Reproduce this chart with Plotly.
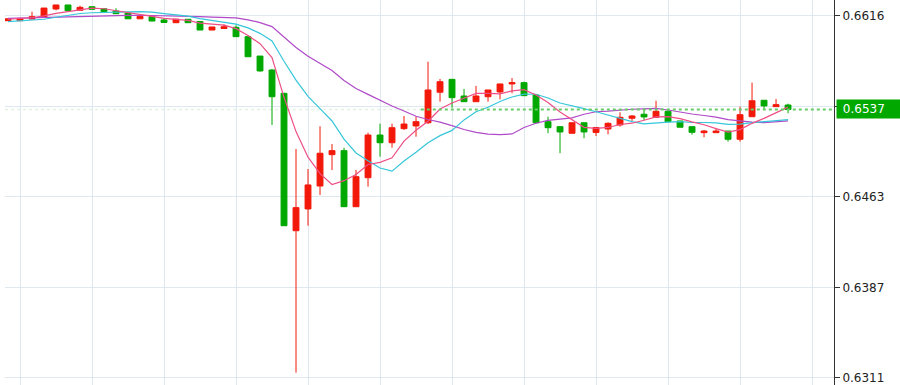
import plotly.graph_objects as go

# ---- data ----
idx = list(range(66))

opens = [0.66120, 0.66120, 0.66134, 0.66149, 0.66219, 0.66253, 0.66208, 0.66238, 0.66221, 0.66202,
         0.66185, 0.66136, 0.66154, 0.66126, 0.66103, 0.66132, 0.66113, 0.66041, 0.66054, 0.66064,
         0.65985, 0.65821, 0.65703, 0.65506, 0.64344, 0.64528, 0.64722, 0.64987, 0.65021, 0.64547,
         0.64792, 0.65153, 0.65088, 0.65207, 0.65230, 0.65257, 0.65515, 0.65624, 0.65483, 0.65435,
         0.65477, 0.65517, 0.65585, 0.65596, 0.65492, 0.65266, 0.65224, 0.65168, 0.65257, 0.65175,
         0.65204, 0.65238, 0.65295, 0.65329, 0.65303, 0.65354, 0.65272, 0.65224, 0.65173, 0.65173,
         0.65187, 0.65117, 0.65308, 0.65447, 0.65393, 0.65407]

highs = [0.66136, 0.66140, 0.66196, 0.66227, 0.66253, 0.66253, 0.66247, 0.66238, 0.66221, 0.66225,
         0.66185, 0.66157, 0.66154, 0.66139, 0.66133, 0.66132, 0.66113, 0.66067, 0.66090, 0.66081,
         0.65985, 0.65821, 0.65712, 0.65506, 0.65035, 0.64866, 0.65227, 0.65077, 0.65046, 0.64857,
         0.65173, 0.65249, 0.65249, 0.65314, 0.65308, 0.65773, 0.65627, 0.65624, 0.65542, 0.65568,
         0.65534, 0.65585, 0.65635, 0.65604, 0.65492, 0.65308, 0.65224, 0.65257, 0.65257, 0.65217,
         0.65261, 0.65345, 0.65323, 0.65373, 0.65443, 0.65371, 0.65272, 0.65224, 0.65196, 0.65210,
         0.65187, 0.65393, 0.65596, 0.65447, 0.65458, 0.65418]

lows = [0.66120, 0.66120, 0.66134, 0.66149, 0.66208, 0.66205, 0.66208, 0.66216, 0.66196, 0.66179,
        0.66136, 0.66136, 0.66117, 0.66105, 0.66103, 0.66103, 0.66041, 0.66041, 0.66054, 0.65985,
        0.65815, 0.65689, 0.65238, 0.64386, 0.63143, 0.64386, 0.64646, 0.64857, 0.64547, 0.64547,
        0.64716, 0.64970, 0.65046, 0.65196, 0.65139, 0.65246, 0.65435, 0.65384, 0.65435, 0.65435,
        0.65435, 0.65455, 0.65506, 0.65486, 0.65257, 0.65168, 0.64999, 0.65168, 0.65126, 0.65145,
        0.65159, 0.65224, 0.65272, 0.65280, 0.65303, 0.65266, 0.65219, 0.65156, 0.65134, 0.65173,
        0.65097, 0.65097, 0.65308, 0.65373, 0.65393, 0.65337]

closes = [0.66136, 0.66140, 0.66154, 0.66227, 0.66253, 0.66205, 0.66233, 0.66216, 0.66196, 0.66179,
          0.66136, 0.66157, 0.66117, 0.66105, 0.66133, 0.66103, 0.66041, 0.66067, 0.66069, 0.65985,
          0.65815, 0.65695, 0.65477, 0.64386, 0.64539, 0.64731, 0.64999, 0.65021, 0.64547, 0.64801,
          0.65153, 0.65088, 0.65215, 0.65246, 0.65266, 0.65534, 0.65604, 0.65469, 0.65435, 0.65483,
          0.65534, 0.65585, 0.65596, 0.65486, 0.65257, 0.65215, 0.65179, 0.65257, 0.65179, 0.65217,
          0.65252, 0.65303, 0.65314, 0.65306, 0.65354, 0.65266, 0.65219, 0.65176, 0.65187, 0.65187,
          0.65117, 0.65325, 0.65443, 0.65399, 0.65410, 0.65369]

ma5 = [0.66132, 0.66136, 0.66145, 0.66160, 0.66182, 0.66196, 0.66214, 0.66227, 0.66221, 0.66206,
       0.66192, 0.66177, 0.66157, 0.66139, 0.66130, 0.66123, 0.66100, 0.66090, 0.66083, 0.66053,
       0.65995, 0.65926, 0.65808, 0.65472, 0.65182, 0.64966, 0.64826, 0.64735, 0.64767, 0.64820,
       0.64904, 0.64922, 0.64961, 0.65101, 0.65194, 0.65270, 0.65373, 0.65424, 0.65462, 0.65505,
       0.65505, 0.65501, 0.65527, 0.65537, 0.65492, 0.65428, 0.65347, 0.65279, 0.65218, 0.65209,
       0.65217, 0.65242, 0.65253, 0.65278, 0.65306, 0.65309, 0.65292, 0.65264, 0.65240, 0.65207,
       0.65177, 0.65199, 0.65252, 0.65294, 0.65339, 0.65389]

ma10 = [0.66112, 0.66117, 0.66123, 0.66132, 0.66149, 0.66166, 0.66181, 0.66187, 0.66191, 0.66194,
        0.66194, 0.66196, 0.66192, 0.66180, 0.66168, 0.66158, 0.66138, 0.66123, 0.66111, 0.66091,
        0.66059, 0.66013, 0.65949, 0.65777, 0.65618, 0.65480, 0.65376, 0.65272, 0.65119, 0.65001,
        0.64935, 0.64874, 0.64848, 0.64934, 0.65007, 0.65087, 0.65148, 0.65192, 0.65281, 0.65350,
        0.65388, 0.65437, 0.65475, 0.65499, 0.65498, 0.65466, 0.65424, 0.65403, 0.65377, 0.65350,
        0.65322, 0.65294, 0.65266, 0.65248, 0.65258, 0.65263, 0.65267, 0.65259, 0.65259, 0.65256,
        0.65243, 0.65245, 0.65258, 0.65267, 0.65273, 0.65283]

ma20 = [0.66140, 0.66143, 0.66146, 0.66149, 0.66150, 0.66152, 0.66154, 0.66157, 0.66161, 0.66163,
        0.66165, 0.66166, 0.66165, 0.66163, 0.66161, 0.66158, 0.66155, 0.66151, 0.66148, 0.66143,
        0.66127, 0.66104, 0.66070, 0.65978, 0.65893, 0.65819, 0.65757, 0.65698, 0.65615, 0.65546,
        0.65497, 0.65444, 0.65398, 0.65356, 0.65312, 0.65284, 0.65262, 0.65232, 0.65200, 0.65175,
        0.65161, 0.65156, 0.65162, 0.65217, 0.65253, 0.65277, 0.65286, 0.65298, 0.65329, 0.65350,
        0.65355, 0.65366, 0.65371, 0.65374, 0.65378, 0.65365, 0.65345, 0.65331, 0.65318, 0.65304,
        0.65283, 0.65270, 0.65262, 0.65258, 0.65265, 0.65273]

y_tickvals = [0.66160, 0.65395, 0.64630, 0.63865, 0.63100]
y_ticktext = ["0.6616", "", "0.6463", "0.6387", "0.6311"]
x_gridvals = [1, 7, 13, 19, 25, 31, 37, 43, 49, 55, 61, 67]

UP = "#f2190a"
DOWN = "#00a800"
last = closes[-1]

fig = go.Figure()
fig.add_trace(go.Candlestick(
    x=idx, open=opens, high=highs, low=lows, close=closes,
    increasing=dict(line=dict(color=UP, width=1), fillcolor=UP),
    decreasing=dict(line=dict(color=DOWN, width=1), fillcolor=DOWN),
    whiskerwidth=0, hoverinfo="skip", showlegend=False,
))
for vals, col in [(ma20, "#b04ac8"), (ma10, "#36c6da"), (ma5, "#ee4f86")]:
    fig.add_trace(go.Scatter(x=idx, y=vals, mode="lines",
                             line=dict(color=col, width=1.2),
                             hoverinfo="skip", showlegend=False))

# current price dotted line
fig.add_shape(type="line", xref="x", yref="y", x0=-0.25, x1=34.4, y0=last, y1=last,
              line=dict(color="#e4f2e4", width=1.5, dash="dot"), layer="below")
fig.add_shape(type="line", xref="x", yref="y", x0=34.4, x1=68.83, y0=last, y1=last,
              line=dict(color="#66cc66", width=1.8, dash="dot"))

fig.add_annotation(xref="paper", yref="y", x=1, xshift=2, y=last, xanchor="left", yanchor="middle",
                   text="&nbsp;" + f"{last:.4f}", showarrow=False, align="left",
                   width=60, height=14, borderpad=2, bgcolor=DOWN,
                   font=dict(family="DejaVu Sans", size=12, color="white"))

fig.update_layout(
    width=900, height=385,
    margin=dict(l=5, r=66, t=0, b=0),
    paper_bgcolor="white", plot_bgcolor="white",
    hovermode=False, showlegend=False, boxgap=0.3,
    font=dict(family="DejaVu Sans", size=12, color="#222222"),
)
fig.update_xaxes(
    range=[-0.25, 68.83], rangeslider=dict(visible=False),
    tickmode="array", tickvals=x_gridvals, showticklabels=False, ticks="",
    showgrid=True, gridcolor="#dde8f0", gridwidth=1, zeroline=False,
    showline=True, linecolor="#d8d8d8", linewidth=1,
)
fig.update_yaxes(
    range=[0.63039, 0.66295], side="right",
    tickmode="array", tickvals=y_tickvals, ticktext=y_ticktext,
    ticks="outside", ticklen=5, tickcolor="#333333",
    showgrid=True, gridcolor="#dde8f0", gridwidth=1, zeroline=False,
    showline=True, linecolor="#333333", linewidth=1,
)

fig.write_html("out.html",
               config={"displayModeBar": False, "staticPlot": True},
               post_script="document.body.style.margin='0';document.body.style.overflow='hidden';")
